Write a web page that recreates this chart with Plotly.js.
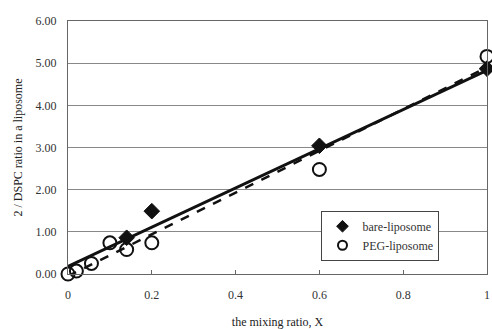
<!DOCTYPE html>
<html>
<head>
<meta charset="utf-8">
<script src="https://cdn.plot.ly/plotly-3.0.1.min.js"></script>
<style>html,body{margin:0;padding:0;background:#fff;}#chart{width:492px;height:329px;}</style>
</head>
<body>
<div id="chart"></div>
<script>
// Data
const bareX = [0.14, 0.2, 0.6, 1.0];
const bareY = [0.86, 1.49, 3.04, 4.87];
const pegX = [0, 0.02, 0.056, 0.1, 0.14, 0.2, 0.6, 1.0];
const pegY = [0, 0.07, 0.25, 0.74, 0.58, 0.74, 2.48, 5.16];
// Trend lines (end points)
const fitX = [0, 1];
const bareFitY = [0.18, 4.83];
const pegFitY = [-0.05, 4.9];
const xTicks = [0, 0.2, 0.4, 0.6, 0.8, 1];
const yTicks = [0, 1, 2, 3, 4, 5, 6];
const seriesNames = ['bare-liposome', 'PEG-liposome'];

const font = {family: '"Liberation Serif", "Times New Roman", serif', size: 12, color: '#333'};
const titleFont = {family: '"Liberation Serif", "Times New Roman", serif', size: 12, color: '#222'};

const traces = [
  {x: fitX, y: pegFitY, mode: 'lines', line: {color: '#111', width: 2.5, dash: 'dash'}, showlegend: false, hoverinfo: 'skip', cliponaxis: false},
  {x: fitX, y: bareFitY, mode: 'lines', line: {color: '#111', width: 2.8}, showlegend: false, hoverinfo: 'skip', cliponaxis: false},
  {x: bareX, y: bareY, mode: 'markers', name: seriesNames[0], showlegend: false, cliponaxis: false,
   marker: {symbol: 'diamond', size: 12, color: '#111', line: {color: '#111', width: 1}}},
  {x: pegX, y: pegY, mode: 'markers', name: seriesNames[1], showlegend: false, cliponaxis: false,
   marker: {symbol: 'circle-open', size: 13, color: '#111', line: {color: '#111', width: 2}}},
  // legend entries (smaller symbols as in the reference legend)
  {x: [null], y: [null], mode: 'markers', name: seriesNames[0],
   marker: {symbol: 'diamond', size: 9, color: '#111', line: {color: '#111', width: 1}}},
  {x: [null], y: [null], mode: 'markers', name: seriesNames[1],
   marker: {symbol: 'circle-open', size: 9, color: '#111', line: {color: '#111', width: 2}}}
];

const layout = {
  width: 492, height: 329,
  margin: {l: 68, r: 5, t: 21, b: 55},
  paper_bgcolor: '#fff', plot_bgcolor: '#fff',
  font: font,
  showlegend: true,
  legend: {x: 0.605, y: 0.25, xanchor: 'left', yanchor: 'top', bgcolor: '#fff',
           bordercolor: '#444', borderwidth: 1, font: font, itemwidth: 30,
           tracegroupgap: 0},
  xaxis: {range: [0, 1], tickvals: xTicks, ticktext: xTicks.map(v => String(v)),
          ticks: 'inside', ticklen: 4, tickcolor: '#666', showgrid: false,
          showline: true, linecolor: '#666', linewidth: 1, mirror: true, zeroline: false,
          ticklabelstandoff: 10,
          title: {text: 'the mixing ratio, X', font: titleFont, standoff: 16}},
  yaxis: {range: [0, 6], tickvals: yTicks, tickformat: '.2f', ticks: '',
          showgrid: true, gridcolor: '#888', gridwidth: 1,
          showline: true, linecolor: '#666', linewidth: 1, mirror: true, zeroline: false,
          ticklabelstandoff: 8,
          title: {text: '2 / DSPC ratio in a liposome', font: titleFont, standoff: 10}}
};

Plotly.newPlot('chart', traces, layout, {staticPlot: true, displayModeBar: false});
</script>
</body>
</html>
